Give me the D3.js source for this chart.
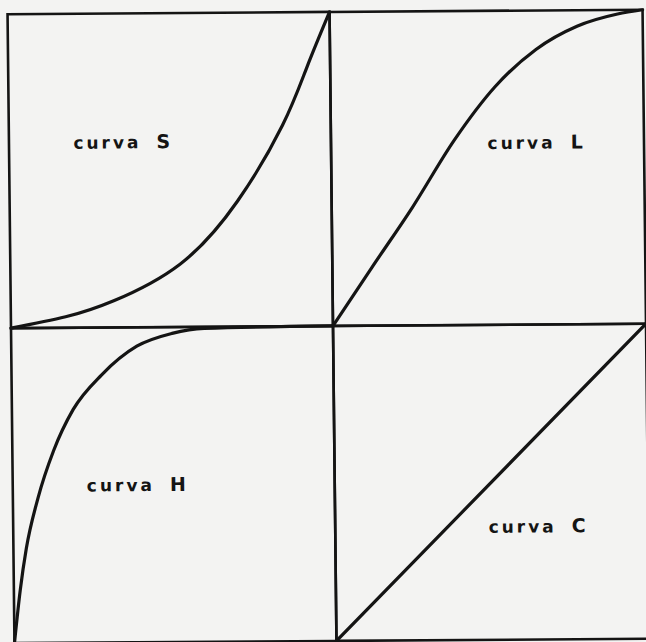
<!DOCTYPE html>
<html>
<head>
<meta charset="utf-8">
<script src="https://cdn.jsdelivr.net/npm/d3@7"></script>
<style>
  html, body { margin: 0; padding: 0; background: #f3f3f2; }
  svg { display: block; }
</style>
</head>
<body>
<svg id="chart" width="646" height="642"></svg>
<script>
"use strict";

// curve shapes (x and y as fraction of each panel)
var curveS = [[0, 0], [0.17, 0.035], [0.32, 0.085], [0.527, 0.20], [0.708, 0.40], [0.85, 0.64], [0.928, 0.825], [1, 1]];
var curveL = [[0, 0], [0.126, 0.185], [0.258, 0.376], [0.394, 0.589], [0.526, 0.758], [0.658, 0.876], [0.79, 0.949], [0.92, 0.987], [1, 1]];
var curveH = [[0, 0], [0.02, 0.17], [0.04, 0.30], [0.078, 0.46], [0.128, 0.61], [0.19, 0.74], [0.28, 0.85], [0.39, 0.94], [0.50, 0.98], [0.6, 0.995], [1, 1]];
var curveC = [[0, 0], [1, 1]];

var panelNames = ["S", "L", "H", "C"];
var panelCurves = [curveS, curveL, curveH, curveC];
// the S curve smooths better with a natural spline
var panelInterp = [d3.curveNatural, d3.curveMonotoneX, d3.curveMonotoneX, d3.curveLinear];

var COLS = [11, 333, 646];
var ROWS = [12, 326, 641];
var INK = "#141414";
var BORDER_WIDTH = "2.6px";
var CURVE_WIDTH = "3.2px";
// label anchor inside each panel, as fraction of the panel
var LABEL_POS = [[0.2, 0.57], [0.5, 0.56], [0.23, 0.48], [0.49, 0.34]];

var svg = d3.select("#chart");
// the scan is slightly skewed
var root = svg.append("g")
    .attr("transform", "matrix(1, -0.007, 0.011, 1, -3.586, 2.261)");

panelNames.forEach(function (name, i) {
  var col = i % 2;
  var row = Math.floor(i / 2);
  var x = d3.scaleLinear().domain([0, 1]).range([COLS[col], COLS[col + 1]]);
  var y = d3.scaleLinear().domain([0, 1]).range([ROWS[row + 1], ROWS[row]]);

  var panel = root.append("g").attr("class", "panel panel-" + name);

  panel.append("rect")
      .attr("x", x(0))
      .attr("y", y(1))
      .attr("width", x(1) - x(0))
      .attr("height", y(0) - y(1))
      .attr("fill", "none")
      .attr("stroke", INK)
      .attr("stroke-width", BORDER_WIDTH);

  var lineGen = d3.line()
      .x(function (d) { return x(d[0]); })
      .y(function (d) { return y(d[1]); })
      .curve(panelInterp[i]);

  panel.append("path")
      .datum(panelCurves[i])
      .attr("fill", "none")
      .attr("stroke", INK)
      .attr("stroke-width", CURVE_WIDTH)
      .attr("stroke-linecap", "round")
      .attr("d", lineGen);

  var label = panel.append("text")
      .attr("x", x(LABEL_POS[i][0]))
      .attr("y", y(LABEL_POS[i][1]))
      .attr("font-family", "DejaVu Sans")
      .attr("font-weight", "bold")
      .attr("font-size", "17px")
      .attr("letter-spacing", "3px")
      .attr("fill", INK)
      .text("curva");
  label.append("tspan")
      .attr("dx", 15)
      .attr("font-size", "19px")
      .text(name);
});
</script>
</body>
</html>
